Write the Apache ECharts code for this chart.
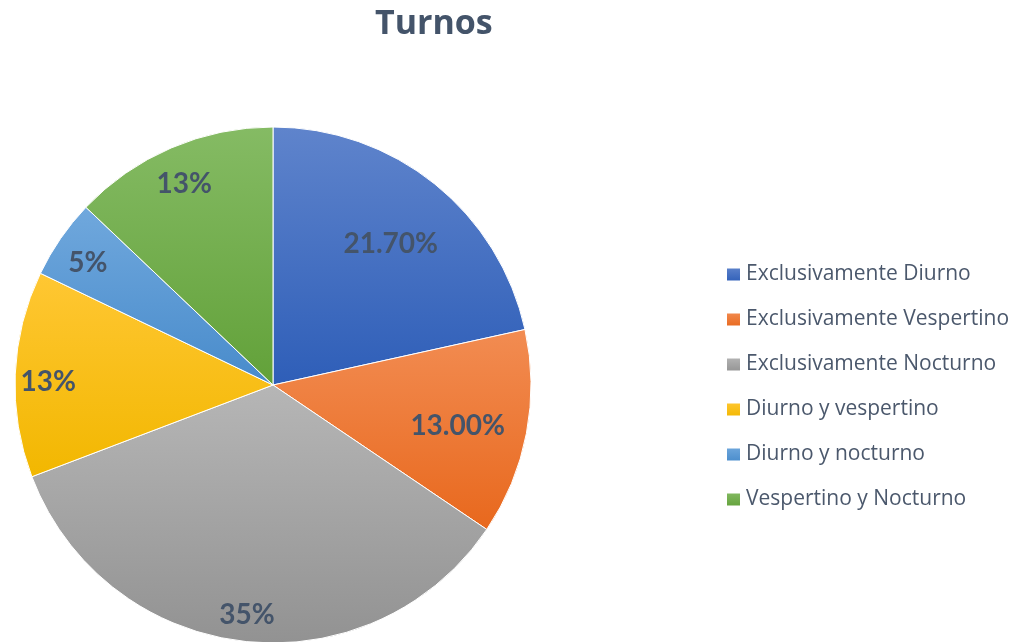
<!DOCTYPE html>
<html>
<head>
    <meta charset="utf-8">
    <title>Turnos</title>
    <script src="https://cdn.jsdelivr.net/npm/echarts@6/dist/echarts.min.js"></script>
</head>
<body style="margin:0;">
<div id="main" style="width:1013px;height:642px;"></div>

<script type="text/javascript">
    // datos del grafico
    var categorias = ['Exclusivamente Diurno', 'Exclusivamente Vespertino', 'Exclusivamente Nocturno',
        'Diurno y vespertino', 'Diurno y nocturno', 'Vespertino y Nocturno'];
    var valores = [21.7, 13, 35, 13, 5, 13];
    var etiquetas = ['21.70%', '13.00%', '35%', '13%', '5%', '13%'];

    // colores (arriba claro, abajo oscuro)
    var coloresArriba = ['#5F84CC', '#F28C52', '#B6B6B6', '#FFC733', '#70A8DD', '#85BB64'];
    var coloresAbajo = ['#2E5EB8', '#E8681D', '#929292', '#F2B700', '#488BCB', '#62A139'];

    var datos = [];
    var etiquetasCortas = [];
    var etiquetasLargas = [];
    for (var i = 0; i < categorias.length; i++) {
        datos.push({
            name: categorias[i],
            value: valores[i],
            itemStyle: {
                color: new echarts.graphic.LinearGradient(0, 0, 0, 1, [
                    {offset: 0, color: coloresArriba[i]},
                    {offset: 1, color: coloresAbajo[i]}
                ])
            }
        });
        // las etiquetas largas van mas hacia el centro (como hace Excel)
        var larga = etiquetas[i].length > 4;
        etiquetasCortas.push({name: categorias[i], value: valores[i], etiqueta: etiquetas[i], label: {show: !larga}});
        etiquetasLargas.push({name: categorias[i], value: valores[i], etiqueta: etiquetas[i], label: {show: larga}});
    }

    var estiloEtiqueta = {
        show: true,
        position: 'inside',
        formatter: function (p) { return p.data.etiqueta; },
        fontFamily: 'Lato',
        fontSize: 28,
        fontWeight: 'bold',
        color: '#44546A',
        offset: [0, 6]
    };

    function serieEtiquetas(nombre, r0, data) {
        return {
            name: nombre,
            type: 'pie',
            center: [273, 385],
            radius: [r0, 258],
            startAngle: 90,
            clockwise: true,
            silent: true,
            legendHoverLink: false,
            itemStyle: {color: 'rgba(0,0,0,0)'},
            label: estiloEtiqueta,
            labelLine: {show: false},
            data: data
        };
    }

    var myChart = echarts.init(document.getElementById('main'));
    myChart.setOption({
        animation: false,
        title: {
            text: 'Turnos',
            left: 370,
            top: 2,
            textStyle: {
                fontFamily: 'Open Sans',
                fontSize: 34,
                fontWeight: 'bold',
                color: '#44546A'
            }
        },
        legend: {
            orient: 'vertical',
            left: 720,
            top: 259,
            itemWidth: 15,
            itemHeight: 14,
            itemGap: 24,
            icon: 'rect',
            data: categorias,
            textStyle: {
                fontFamily: 'Open Sans',
                fontSize: 21,
                lineHeight: 20,
                color: '#4B586C'
            }
        },
        series: [{
            name: 'Turnos',
            type: 'pie',
            center: [273, 385],
            radius: [0, 258],
            startAngle: 90,
            clockwise: true,
            silent: true,
            itemStyle: {
                borderColor: '#ffffff',
                borderWidth: 1
            },
            label: {show: false},
            labelLine: {show: false},
            data: datos
        },
            serieEtiquetas('etiquetas', 186, etiquetasCortas),
            serieEtiquetas('etiquetasLargas', 112, etiquetasLargas)
        ]
    });
</script>
</body>
</html>
